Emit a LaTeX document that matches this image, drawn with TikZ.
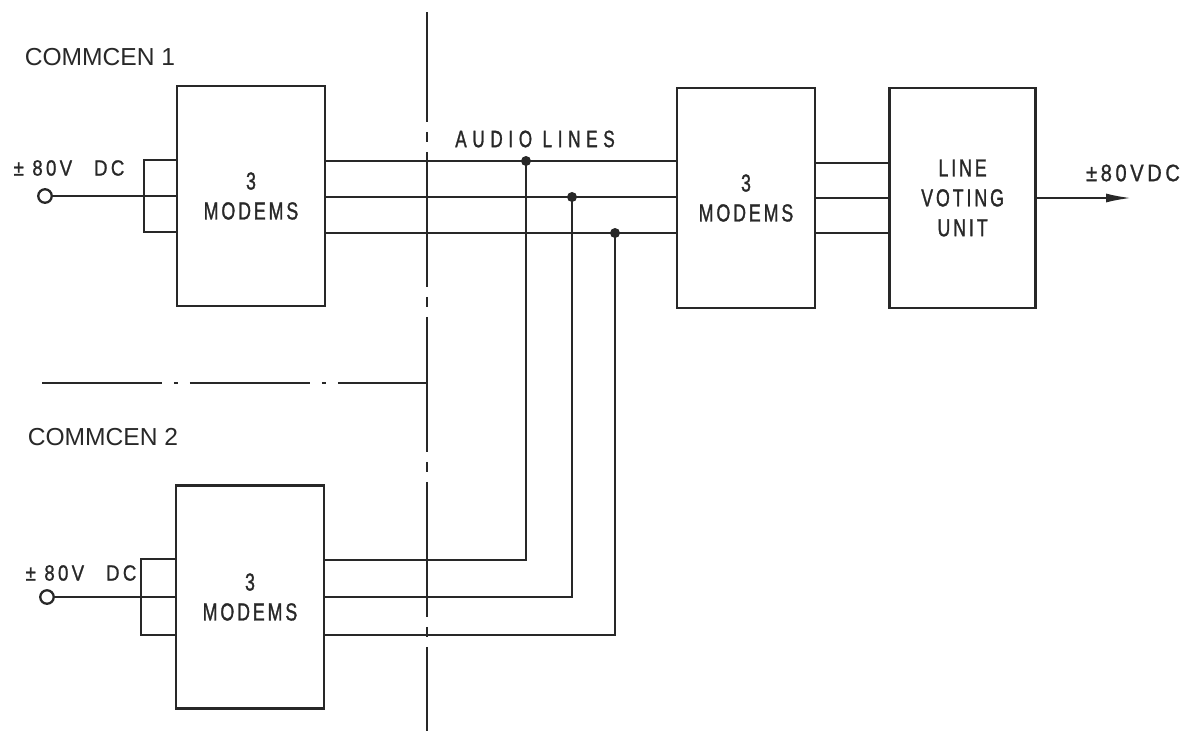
\documentclass[tikz,border=0pt]{standalone}
\usepackage{fontspec}
\setmainfont{Liberation Sans}
\newfontfamily\stencil[FakeStretch=0.72,LetterSpace=12,FakeBold=1.2]{Liberation Sans}
\newfontfamily\stencilwide[FakeStretch=0.72,LetterSpace=24,FakeBold=1.2]{Liberation Sans}
\newfontfamily\stencilsupply[FakeStretch=0.85,LetterSpace=15,FakeBold=1]{Liberation Sans}
\usetikzlibrary{positioning,arrows.meta,calc}
\definecolor{InkGray}{RGB}{40,40,40}

\begin{document}
\begin{tikzpicture}[
    x=0.02cm, y=-0.02cm,
    unit/.style={rectangle, draw=InkGray, line width=1.5pt,
                 minimum width=2.96cm, minimum height=4.4cm,
                 align=center, inner sep=0pt, text=InkGray,
                 font=\stencil\fontsize{14}{17}\selectfont},
    supply/.style={text=InkGray, font=\stencilsupply\fontsize{12.5}{15}\selectfont},
    centre/.style={text=InkGray, font=\fontsize{14}{17}\selectfont},
    terminal/.style={circle, draw=InkGray, line width=1.3pt, minimum size=0.27cm, inner sep=0pt},
    junction/.style={circle, fill=InkGray, minimum size=0.2cm, inner sep=0pt},
    link/.style={draw=InkGray, line width=1.1pt},
    divider/.style={draw=InkGray, line width=1.2pt},
    arrow/.style={link, -{Latex[length=5mm,width=1.8mm]}}
]
    \useasboundingbox (0,0) rectangle (1186,731);

    % blocks
    \node[unit] (m1) at (251,196) {3\\MODEMS};
    \node[unit, minimum height=4.46cm] (m2) at (250,597) {3\\MODEMS};
    \node[unit, minimum width=2.76cm] (m3) at (746,198) {3\\MODEMS};
    \node[unit, minimum width=2.92cm, right=1.44cm of m3] (lvu) {LINE\\VOTING\\UNIT};

    % labels
    \node[centre] (cc1) at (100,57) {COMMCEN 1};
    \node[centre] (cc2) at (103,437) {COMMCEN 2};
    \node[supply] (dc1) at (69,168) {± 80V\quad DC};
    \node[supply] (dc2) at (81,573) {± 80V\quad DC};
    \node[supply, font=\stencilsupply\fontsize{13.5}{15}\selectfont] (dc3) at (1133,173) {±80VDC};
    \node[text=InkGray, font=\stencilwide\fontsize{13.5}{16}\selectfont] (audio) at (535,139) {AUDIO LINES};

    % supply inputs
    \node[terminal] (t1) at (45,196) {};
    \node[terminal] (t2) at (47,597) {};
    \draw[link] (t1) -- (m1.west |- t1);
    \draw[link] (t2) -- (m2.west |- t2);
    \draw[link] ($(m1.west)+(0,-36)$) -- ++(-32,0) -- ++(0,72) -- ++(32,0);
    \draw[link] ($(m2.west)+(0,-38)$) -- ++(-34,0) -- ++(0,76) -- ++(34,0);

    % audio lines
    \coordinate (j1) at (526,161);
    \coordinate (j2) at (572,197);
    \coordinate (j3) at (615,233);
    \foreach \j/\dy in {j1/-37, j2/0, j3/38} {
        \draw[link] (m1.east |- \j) -- (m3.west |- \j);
        \draw[link] ($(m2.east)+(0,\dy)$) -| (\j);
        \node[junction] (d\j) at (\j) {};
    }
    \foreach \dy in {-35,0,35}
        \draw[link] ($(m3.east)+(0,\dy)$) -- ($(lvu.west)+(0,\dy)$);

    % output
    \coordinate (vout) at (1131,198);
    \draw[arrow] (lvu.east) -- (vout);

    % site boundaries
    \coordinate (vtop) at (427,12);
    \coordinate (vbot) at (427,731);
    \coordinate (hl) at (42,383);
    \draw[divider, dash pattern=on 2.7cm off 0.2cm on 0.2cm off 0.2cm, dash phase=0.5cm] (vtop) -- (vbot);
    \draw[divider, dash pattern=on 2.4cm off 0.24cm on 0.08cm off 0.24cm] (hl) -- (hl -| vtop);
\end{tikzpicture}
\end{document}
